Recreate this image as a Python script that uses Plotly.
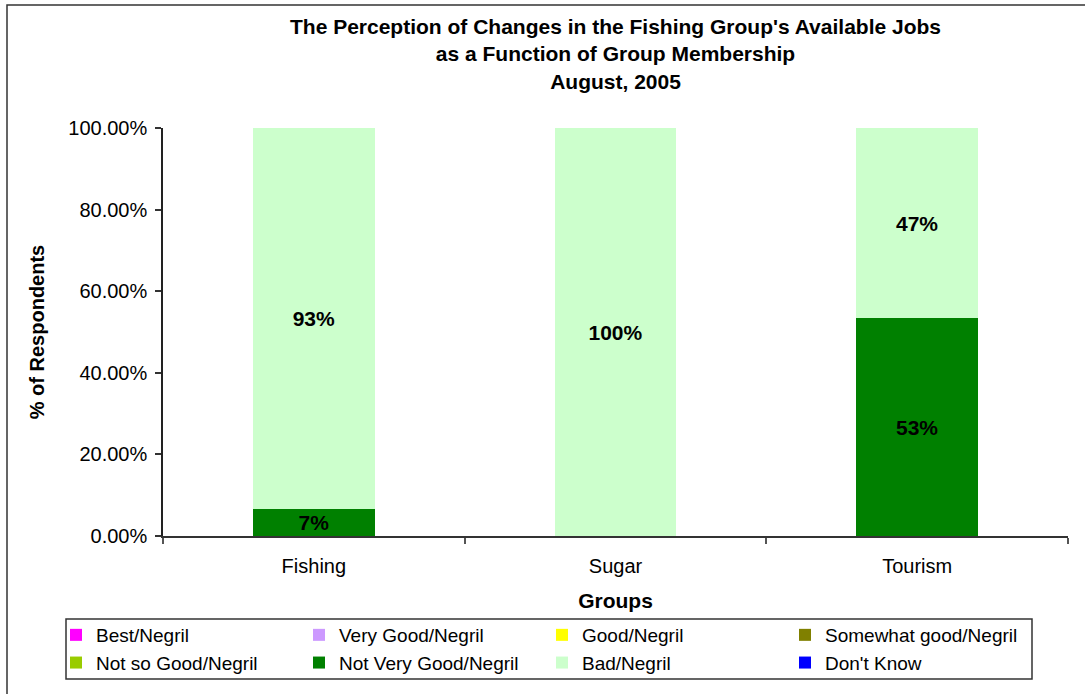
import plotly.graph_objects as go

groups = ["Fishing", "Sugar", "Tourism"]
series_names = ["Best/Negril", "Very Good/Negril", "Good/Negril", "Somewhat good/Negril",
                "Not so Good/Negril", "Not Very Good/Negril", "Bad/Negril", "Don't Know"]
series_colors = ["#FF00FF", "#CC99FF", "#FFFF00", "#808000",
                 "#99CC00", "#008000", "#CCFFCC", "#0000FF"]
best = [0, 0, 0]
very_good = [0, 0, 0]
good = [0, 0, 0]
somewhat_good = [0, 0, 0]
not_so_good = [0, 0, 0]
not_very_good = [6.67, 0, 53.33]
bad = [93.33, 100, 46.67]
dont_know = [0, 0, 0]
series_values = [best, very_good, good, somewhat_good, not_so_good, not_very_good, bad, dont_know]

W, H = 1085, 694
L, R, T, B = 163, 1068, 128, 536
pw, ph = R - L, B - T

def px(x):
    return (x - L) / pw

def py(y):
    return (B - y) / ph

FONT = "Liberation Sans, Arial, sans-serif"

fig = go.Figure()
for name, color, vals in zip(series_names, series_colors, series_values):
    fig.add_trace(go.Bar(
        x=groups, y=vals, name=name, marker=dict(color=color, line=dict(width=0)),
        text=[f"{round(v)}%" if v > 0 else "" for v in vals],
        textposition="inside", insidetextanchor="middle", textangle=0,
        textfont=dict(family=FONT, size=21, color="black", weight="bold"),
        constraintext="none", cliponaxis=False,
    ))

fig.update_layout(
    barmode="stack", bargap=0.596,
    width=W, height=H,
    margin=dict(l=L, r=W - R, t=T, b=H - B, autoexpand=False),
    paper_bgcolor="white", plot_bgcolor="white",
    font=dict(family=FONT, size=20, color="black"),
    title=dict(
        text="<b>The Perception of Changes in the Fishing Group's Available Jobs<br>as a Function of Group Membership<br>August, 2005</b>",
        x=0.5, xref="paper", xanchor="center", y=1 - 34 / H, yref="container", yanchor="top",
        font=dict(size=21),
    ),
    xaxis=dict(
        showline=True, linecolor="#333", linewidth=1.5, ticks="outside", tickson="boundaries",
        ticklen=6, tickcolor="#555", tickwidth=1.5, tickfont=dict(size=20), showgrid=False,
        ticklabelstandoff=11,
        title=dict(text="<b>Groups</b>", font=dict(size=21), standoff=18),
    ),
    yaxis=dict(
        range=[0, 100], tickvals=[0, 20, 40, 60, 80, 100],
        ticktext=["0.00%", "20.00%", "40.00%", "60.00%", "80.00%", "100.00%"],
        showline=True, linecolor="#222", linewidth=1.5, ticks="outside", ticklen=6,
        tickcolor="#333", tickwidth=1.5, ticklabelstandoff=4,
        tickfont=dict(size=20), showgrid=False, zeroline=False,
        title=dict(text="<b>% of Respondents</b>", font=dict(size=20), standoff=18),
    ),
    legend=dict(
        orientation="h", x=px(56), y=py(616), xanchor="left", yanchor="top",
        entrywidth=198, entrywidthmode="pixels", traceorder="normal",
        borderwidth=0, font=dict(size=19), bgcolor="rgba(0,0,0,0)",
        itemwidth=30, tracegroupgap=0,
    ),
    shapes=[
        dict(type="rect", xref="paper", yref="paper",
             x0=px(7), x1=px(1095), y0=py(705), y1=py(5),
             line=dict(color="#333", width=1.5), fillcolor="rgba(0,0,0,0)", layer="below"),
        dict(type="rect", xref="paper", yref="paper",
             x0=px(66), x1=px(1032), y0=py(679), y1=py(619),
             line=dict(color="#333", width=1.5), fillcolor="rgba(0,0,0,0)", layer="below"),
    ],
)

fig.write_html("out.html", config={"displayModeBar": False},
               post_script="document.body.style.margin='0px';")
